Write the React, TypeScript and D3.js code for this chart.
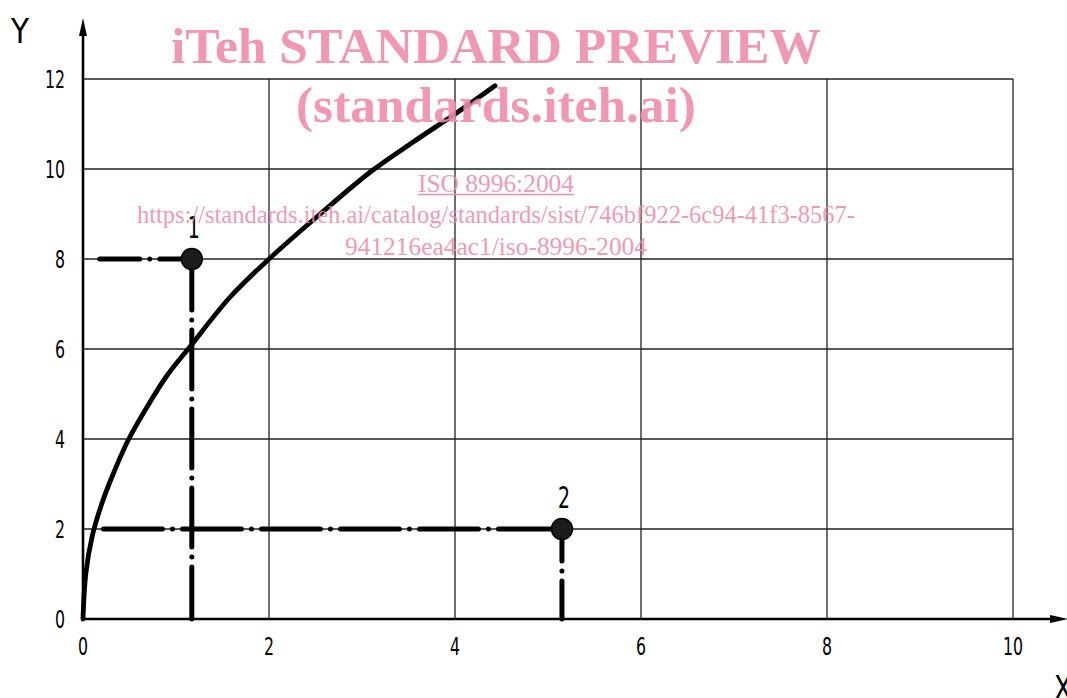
import React from "react";
import * as d3 from "d3";

const curveX = [0, 0.03, 0.1, 0.2, 0.3, 0.48, 0.7, 0.9, 1.15, 1.58, 2.0, 2.55, 3.1, 3.55, 4.02, 4.43];
const curveY = [0, 1.0, 1.85, 2.55, 3.1, 3.95, 4.75, 5.4, 6.05, 7.15, 8.0, 9.0, 9.95, 10.6, 11.25, 11.85];

const pointLabels = ["1", "2"];
const pointX = [1.17, 5.15];
const pointY = [8, 2];
const leaderStartX = [0.18, 0.22];

const xTicks = [0, 2, 4, 6, 8, 10];
const yTicks = [0, 2, 4, 6, 8, 10, 12];

const wmLines = [
  "iTeh STANDARD PREVIEW",
  "(standards.iteh.ai)",
  "ISO 8996:2004",
  "https://standards.iteh.ai/catalog/standards/sist/746bf922-6c94-41f3-8567-",
  "941216ea4ac1/iso-8996-2004",
];

const W = 1067;
const H = 698;
const PINK = "#ee8cab";
const TICKFONT = "'DejaVu Sans Condensed', 'DejaVu Sans', sans-serif";

export default function App() {
  const x = d3.scaleLinear().domain([0, 10]).range([83, 1013]);
  const y = d3.scaleLinear().domain([0, 12]).range([619, 79]);

  const line = d3
    .line<number>()
    .x((_, i) => x(curveX[i]))
    .y((d) => y(d))
    .curve(d3.curveCatmullRom.alpha(0.5));

  const curvePath = line(curveY) || "";

  const dash = "59 10 0 10";
  const hOffsets = [19, 0];
  const vOffsets = [7, 21];

  const wmStyle = [
    { y: 63, size: 50, bold: true, len: 650 },
    { y: 122, size: 50, bold: true, len: 400 },
    { y: 192, size: 25, bold: false, len: 156 },
    { y: 223, size: 25, bold: false, len: 718 },
    { y: 255, size: 25, bold: false, len: 302 },
  ];

  return (
    <svg
      width={W}
      height={H}
      style={{ position: "absolute", left: 0, top: 0, background: "#fff" }}
    >
      {/* grid */}
      {xTicks.slice(1).map((t) => (
        <line key={"gx" + t} x1={x(t)} x2={x(t)} y1={y(0)} y2={y(12)} stroke="#222" strokeWidth={1.3} />
      ))}
      {yTicks.slice(1).map((t) => (
        <line key={"gy" + t} x1={x(0)} x2={x(10)} y1={y(t)} y2={y(t)} stroke="#222" strokeWidth={1.3} />
      ))}

      {/* axes */}
      <line x1={x(0)} x2={x(0)} y1={y(0)} y2={32} stroke="#000" strokeWidth={2.6} />
      <path d={`M ${x(0)} 18 L ${x(0) - 4} 36 L ${x(0) + 4} 36 Z`} fill="#000" />
      <line x1={x(0)} x2={1055} y1={y(0)} y2={y(0)} stroke="#000" strokeWidth={2.6} />
      <path d={`M 1068 ${y(0)} L 1050 ${y(0) - 4} L 1050 ${y(0) + 4} Z`} fill="#000" />

      {/* tick labels */}
      {xTicks.map((t) => (
        <text
          key={"tx" + t}
          x={x(t)}
          y={655}
          textAnchor="middle"
          fontFamily={TICKFONT}
          fontSize={24}
          textLength={String(t).length * 10}
          lengthAdjust="spacingAndGlyphs"
          fill="#000"
        >
          {t}
        </text>
      ))}
      {yTicks.map((t) => (
        <text
          key={"ty" + t}
          x={65}
          y={y(t) + 9}
          textAnchor="end"
          fontFamily={TICKFONT}
          fontSize={24}
          textLength={String(t).length * 10}
          lengthAdjust="spacingAndGlyphs"
          fill="#000"
        >
          {t}
        </text>
      ))}
      <text x={11} y={43} fontFamily={TICKFONT} fontSize={33} textLength={18} lengthAdjust="spacingAndGlyphs" fill="#000">
        Y
      </text>
      <text x={1054} y={700} fontFamily={TICKFONT} fontSize={33} textLength={18} lengthAdjust="spacingAndGlyphs" fill="#000">
        X
      </text>

      {/* leader lines */}
      {pointX.map((px, i) => (
        <g key={"lead" + i}>
          <line
            x1={x(leaderStartX[i])}
            x2={x(px)}
            y1={y(pointY[i])}
            y2={y(pointY[i])}
            stroke="#000"
            strokeWidth={5}
            strokeLinecap="round"
            strokeDasharray={dash}
            strokeDashoffset={hOffsets[i]}
          />
          <line
            x1={x(px)}
            x2={x(px)}
            y1={y(0)}
            y2={y(pointY[i])}
            stroke="#000"
            strokeWidth={5}
            strokeLinecap="round"
            strokeDasharray={dash}
            strokeDashoffset={vOffsets[i]}
          />
        </g>
      ))}

      {/* curve */}
      <path d={curvePath} fill="none" stroke="#000" strokeWidth={4.8} strokeLinecap="round" strokeLinejoin="round" />

      {/* points */}
      {pointX.map((px, i) => (
        <g key={"pt" + i}>
          <circle cx={x(px)} cy={y(pointY[i])} r={10.5} fill="#1c1c1c" stroke="#000" strokeWidth={1.5} />
          <text
            x={x(px) + 2}
            y={y(pointY[i]) - 21}
            textAnchor="middle"
            fontFamily={TICKFONT}
            fontSize={30}
            textLength={12}
            lengthAdjust="spacingAndGlyphs"
            fill="#000"
          >
            {pointLabels[i]}
          </text>
        </g>
      ))}

      {/* watermark */}
      {wmLines.map((s, i) => (
        <text
          key={"wm" + i}
          x={496}
          y={wmStyle[i].y}
          textAnchor="middle"
          fontFamily="'Liberation Serif', 'Times New Roman', serif"
          fontWeight={wmStyle[i].bold ? "bold" : "normal"}
          fontSize={wmStyle[i].size}
          textLength={wmStyle[i].len}
          lengthAdjust="spacingAndGlyphs"
          fill={PINK}
          fillOpacity={0.9}
        >
          {s}
        </text>
      ))}
      <line x1={418} x2={574} y1={194.5} y2={194.5} stroke={PINK} strokeWidth={1.5} />
    </svg>
  );
}
